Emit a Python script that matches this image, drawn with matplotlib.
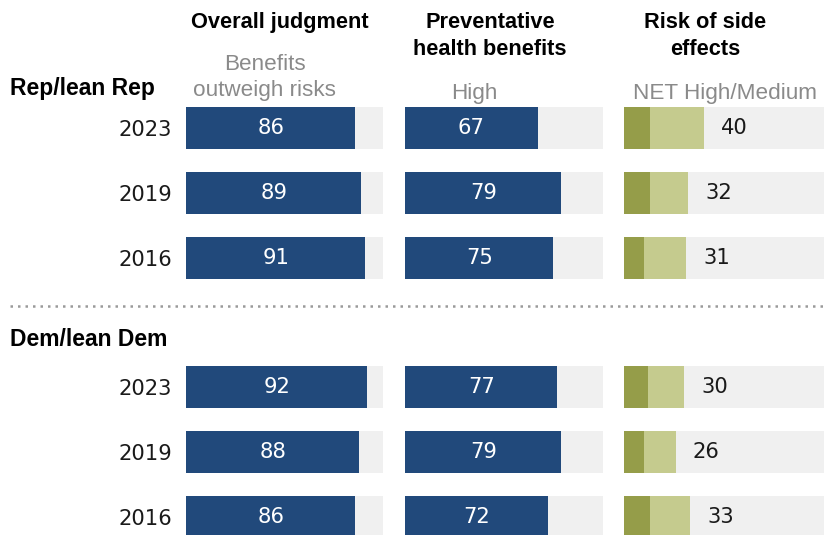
import matplotlib.pyplot as plt
import numpy as np

# Survey values by party and year
years = ['2023', '2019', '2016']
overall_rep = [86, 89, 91]
overall_dem = [92, 88, 86]
preventive_rep = [67, 79, 75]
preventive_dem = [77, 79, 72]
side_high_rep = [13, 13, 10]
side_net_rep = [40, 32, 31]
side_high_dem = [12, 10, 13]
side_net_dem = [30, 26, 33]

W, H = 829, 535
NAVY = '#21497b'
BG = '#f0f0f0'
OLIVE_DARK = '#959d49'
OLIVE_LIGHT = '#c5cb8e'
GREY_TXT = '#8a8a8a'
INK = '#1a1a1a'

plt.rcParams['font.family'] = ['DejaVu Sans']
fig = plt.figure(figsize=(W / 100, H / 100), dpi=100)

ypos = np.array([0, 1, 2, 4, 5, 6])
row_labels = years + years
step = (517 - 128) / 6
top_px = 128 - step / 2
ylim_bottom = -0.5 + (H - top_px) / step


def make_ax(left, width):
    ax = fig.add_axes([left / W, 0, width / W, (H - top_px) / H])
    ax.set_xlim(0, 100)
    ax.set_ylim(ylim_bottom, -0.5)
    for s in ax.spines.values():
        s.set_visible(False)
    ax.set_xticks([])
    ax.set_yticks([])
    ax.barh(ypos, [100] * 6, height=0.65, color=BG, zorder=0)
    return ax


label_fs = 15.2

# Overall judgment
ax1 = make_ax(186, 197)
vals = overall_rep + overall_dem
ax1.barh(ypos, vals, height=0.65, color=NAVY)
for y, v in zip(ypos, vals):
    ax1.text(v / 2, y, str(v), color='white', ha='center', va='center', fontsize=label_fs)
ax1.set_yticks(ypos)
ax1.set_yticklabels(row_labels, fontsize=label_fs, color=INK)
ax1.tick_params(axis='y', length=0, pad=10)

# Preventative health benefits
ax2 = make_ax(405, 198)
vals = preventive_rep + preventive_dem
ax2.barh(ypos, vals, height=0.65, color=NAVY)
for y, v in zip(ypos, vals):
    ax2.text(v / 2, y, str(v), color='white', ha='center', va='center', fontsize=label_fs)

# Risk of side effects: high + medium stacked
ax3 = make_ax(624, 200)
high = np.array(side_high_rep + side_high_dem)
net = np.array(side_net_rep + side_net_dem)
ax3.barh(ypos, high, height=0.65, color=OLIVE_DARK)
ax3.barh(ypos, net - high, left=high, height=0.65, color=OLIVE_LIGHT)
for y, v in zip(ypos, net):
    ax3.text(v + 8.5, y, str(v), color=INK, ha='left', va='center', fontsize=label_fs)


def px(x, y):
    return x / W, 1 - y / H


head = dict(fontweight='bold', fontsize=15.7, family=['Liberation Sans', 'DejaVu Sans'],
            color='black', va='baseline')
fig.text(*px(280, 28), 'Overall judgment', ha='center', **head)
fig.text(*px(490, 28), 'Preventative', ha='center', **head)
fig.text(*px(490, 55), 'health benefits', ha='center', **head)
fig.text(*px(705, 28), 'Risk of side', ha='center', **head)
fig.text(*px(705, 55), 'effects', ha='center', **head)

group = dict(head, fontsize=16.5)
fig.text(*px(10, 95), 'Rep/lean Rep', ha='left', **group)
fig.text(*px(10, 346), 'Dem/lean Dem', ha='left', **group)

sub = dict(fontsize=16.2, family=['Liberation Sans', 'DejaVu Sans'], color=GREY_TXT, va='baseline')
fig.text(*px(265, 70), 'Benefits', ha='center', **sub)
fig.text(*px(265, 96), 'outweigh risks', ha='center', **sub)
fig.text(*px(474, 99), 'High', ha='center', **sub)
fig.text(*px(725, 99), 'NET High/Medium', ha='center', **sub)

# Dotted divider between the two party groups
fig.add_artist(plt.Line2D([10 / W, 1], [1 - 306 / H] * 2, transform=fig.transFigure,
                          color='#9a9a9a', linestyle=(0, (1, 2)), linewidth=1.8))

fig.savefig('out.png', dpi=100)
